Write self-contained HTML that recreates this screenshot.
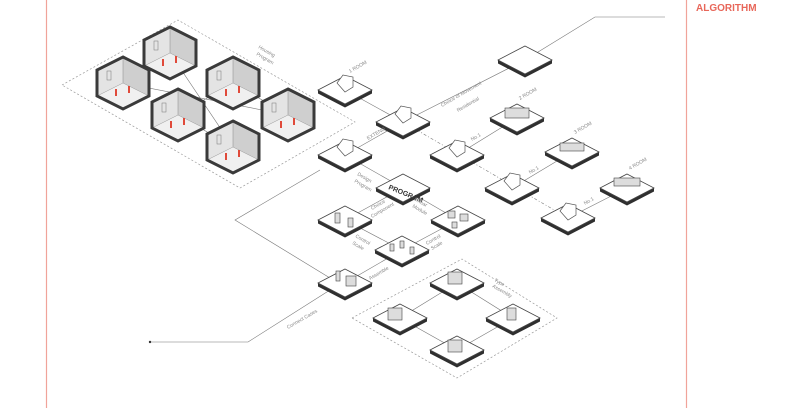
<!DOCTYPE html>
<html><head><meta charset="utf-8"><style>
html,body{margin:0;padding:0;background:#fff;}
svg{display:block;font-family:"Liberation Sans",sans-serif;}
.l{font-size:5px;fill:#888;}
</style></head><body>
<svg width="800" height="408" viewBox="0 0 800 408" xmlns="http://www.w3.org/2000/svg">
<defs>
<g id="t">
<polygon points="-27,0 0,14 27,0 27,3.5 0,17.5 -27,3.5" fill="#2f2f2f"/>
<polygon points="0,-14 27,0 0,14 -27,0" fill="#fff" stroke="#444" stroke-width="0.8"/>
</g>
<g id="h">
<polygon points="0,-26 26,-13 26,13 0,26 -26,13 -26,-13" fill="#f0f0f0"/>
<polygon points="0,-26 26,-13 26,13 0,0" fill="#cfcfcf"/>
<polygon points="0,-26 -26,-13 -26,13 0,0" fill="#e4e4e4"/>
<line x1="0" y1="0" x2="-26" y2="13" stroke="#999" stroke-width="0.5"/>
<line x1="0" y1="0" x2="26" y2="13" stroke="#999" stroke-width="0.5"/>
<line x1="0" y1="-26" x2="0" y2="0" stroke="#888" stroke-width="0.5"/>
<rect x="-16" y="-12" width="4" height="9" fill="none" stroke="#777" stroke-width="0.5"/>
<rect x="-8" y="6" width="2" height="7" fill="#e04a3a"/>
<rect x="5" y="3" width="2" height="7" fill="#e04a3a"/>
<polygon points="0,-26 26,-13 26,13 0,26 -26,13 -26,-13" fill="none" stroke="#3a3a3a" stroke-width="3"/>
</g>
<g id="b">
<path d="M-8,-4 l6,-8 l10,2 l0,10 l-8,5 z" fill="#fff" stroke="#555" stroke-width="0.7"/>
</g>
</defs>

<line x1="46.5" y1="0" x2="46.5" y2="408" stroke="#f0a39a" stroke-width="1.2"/>
<line x1="686.5" y1="0" x2="686.5" y2="408" stroke="#f0a39a" stroke-width="1.2"/>
<text x="696" y="11" font-size="10" font-weight="bold" fill="#e8675a">ALGORITHM</text>

<!-- dashed region hex -->
<polygon points="62,85 178,20 355,122 240,188" fill="none" stroke="#999" stroke-width="0.7" stroke-dasharray="2,2"/>
<polygon points="352,318 462,259 557,318 457,378" fill="none" stroke="#999" stroke-width="0.7" stroke-dasharray="2,2"/>

<!-- connectors -->
<g stroke="#777" stroke-width="0.6" fill="none">
<path d="M123,83 L288,115 M170,53 L233,147 M233,83 L178,115 M170,53 L123,83 M233,83 L288,115 M178,115 L233,147"/>
<path d="M525,60 L595,17 L665,17"/>
<path d="M403,122 L525,60"/>
<path d="M403,122 L345,90 M403,122 L345,155"/>
<path d="M403,122 L568,218" stroke-dasharray="3,2,1,2"/>
<path d="M457,155 L517,118 M512,188 L572,152 M568,218 L627,188"/>
<path d="M345,155 L403,188 M403,188 L345,220 M403,188 L458,220 M345,220 L402,250 M458,220 L402,250 M402,250 L345,283"/>
<path d="M320,170 L235,220 L330,278"/>
<path d="M330,290 L248,342 L150,342"/>
<path d="M457,283 L400,318 L457,350 L513,318 Z"/>
</g>
<circle cx="150" cy="342" r="1.2" fill="#333"/>

<!-- hex rooms -->
<use href="#h" x="170" y="53"/>
<use href="#h" x="123" y="83"/>
<use href="#h" x="233" y="83"/>
<use href="#h" x="178" y="115"/>
<use href="#h" x="288" y="115"/>
<use href="#h" x="233" y="147"/>

<!-- tiles -->
<use href="#t" x="525" y="60"/>
<use href="#t" x="345" y="90"/>
<use href="#t" x="403" y="122"/>
<use href="#t" x="517" y="118"/>
<use href="#t" x="345" y="155"/>
<use href="#t" x="457" y="155"/>
<use href="#t" x="572" y="152"/>
<use href="#t" x="512" y="188"/>
<use href="#t" x="627" y="188"/>
<use href="#t" x="568" y="218"/>
<use href="#t" x="403" y="188"/>
<use href="#t" x="345" y="220"/>
<use href="#t" x="458" y="220"/>
<use href="#t" x="402" y="250"/>
<use href="#t" x="345" y="283"/>
<use href="#t" x="457" y="283"/>
<use href="#t" x="400" y="318"/>
<use href="#t" x="513" y="318"/>
<use href="#t" x="457" y="350"/>

<!-- objects -->
<use href="#b" x="345" y="87"/>
<use href="#b" x="403" y="118"/>
<use href="#b" x="345" y="151"/>
<use href="#b" x="457" y="152"/>
<use href="#b" x="512" y="185"/>
<use href="#b" x="568" y="215"/>
<g fill="#ddd" stroke="#444" stroke-width="0.6">
<rect x="505" y="108" width="24" height="10"/><rect x="560" y="143" width="24" height="8"/><rect x="614" y="178" width="26" height="8"/>
<rect x="335" y="213" width="5" height="10"/><rect x="348" y="218" width="5" height="9"/>
<rect x="448" y="211" width="7" height="7"/><rect x="460" y="214" width="8" height="7"/><rect x="452" y="222" width="5" height="6"/>
<rect x="390" y="244" width="4" height="7"/><rect x="400" y="241" width="4" height="7"/><rect x="410" y="247" width="4" height="7"/>
<rect x="346" y="276" width="10" height="10"/><rect x="336" y="271" width="4" height="10"/>
<rect x="448" y="272" width="14" height="12"/><rect x="388" y="308" width="14" height="12"/><rect x="507" y="308" width="9" height="12"/><rect x="448" y="340" width="14" height="12"/>
</g>
<text x="388" y="189" font-size="7" font-weight="bold" fill="#333" transform="rotate(22 388 189)">PROGRAM</text>

<!-- labels -->
<g class="l">
<text x="258" y="48" transform="rotate(30 258 48)">Housing</text>
<text x="256" y="55" transform="rotate(30 256 55)">Program</text>
<text x="350" y="73" transform="rotate(-30 350 73)">1 ROOM</text>
<text x="442" y="107" transform="rotate(-30 442 107)">Choice of Movement</text>
<text x="458" y="112" transform="rotate(-30 458 112)">Residential</text>
<text x="520" y="100" transform="rotate(-30 520 100)">2 ROOM</text>
<text x="575" y="134" transform="rotate(-30 575 134)">3 ROOM</text>
<text x="630" y="170" transform="rotate(-30 630 170)">4 ROOM</text>
<text x="472" y="141" transform="rotate(-30 472 141)">No.1</text>
<text x="530" y="174" transform="rotate(-30 530 174)">No.1</text>
<text x="585" y="205" transform="rotate(-30 585 205)">No.1</text>
<text x="368" y="140" transform="rotate(-30 368 140)">EXTEND</text>
<text x="357" y="175" transform="rotate(30 357 175)">Design</text>
<text x="354" y="182" transform="rotate(30 354 182)">Program</text>
<text x="372" y="210" transform="rotate(-30 372 210)">Choice</text>
<text x="372" y="218" transform="rotate(-30 372 218)">Component</text>
<text x="414" y="200" transform="rotate(30 414 200)">Linear</text>
<text x="412" y="207" transform="rotate(30 412 207)">Module</text>
<text x="355" y="237" transform="rotate(30 355 237)">Control</text>
<text x="352" y="244" transform="rotate(30 352 244)">Scale</text>
<text x="427" y="245" transform="rotate(-30 427 245)">Control</text>
<text x="432" y="250" transform="rotate(-30 432 250)">Scale</text>
<text x="370" y="280" transform="rotate(-30 370 280)">Assemble</text>
<text x="494" y="281" transform="rotate(30 494 281)">Type</text>
<text x="492" y="287" transform="rotate(30 492 287)">Assembly</text>
<text x="288" y="329" transform="rotate(-30 288 329)">Connect Cases</text>
</g>
</svg>
</body></html>
